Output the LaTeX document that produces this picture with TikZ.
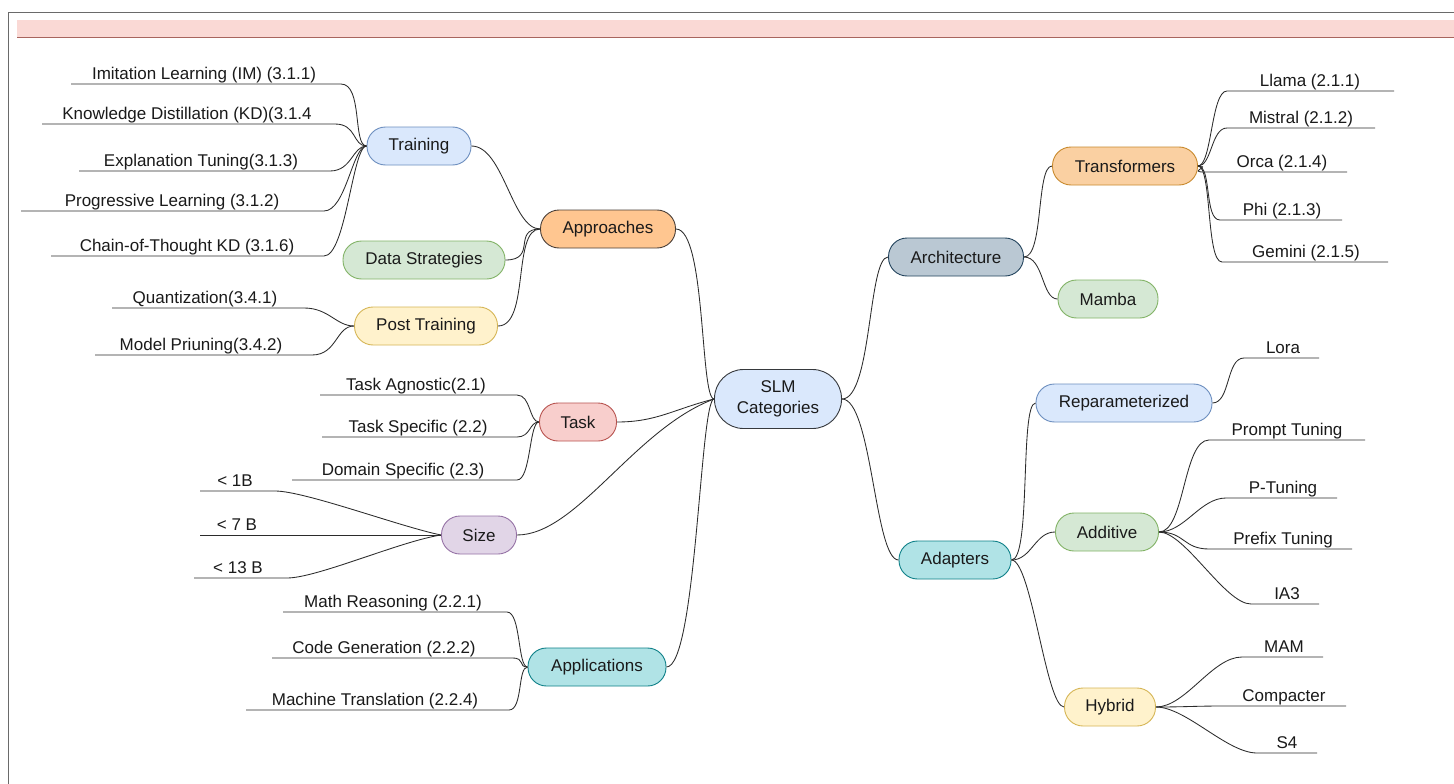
\documentclass[tikz,border=0pt]{standalone}
\usepackage{fontspec}
\setmainfont{Liberation Sans}
\definecolor{txt}{HTML}{1A1A1A}
\definecolor{edgec}{HTML}{2B2B2B}
\definecolor{bluef}{HTML}{DAE8FC}\definecolor{blued}{HTML}{6C8EBF}
\definecolor{greenf}{HTML}{D5E8D4}\definecolor{greend}{HTML}{82B366}
\definecolor{yelf}{HTML}{FFF2CC}\definecolor{yeld}{HTML}{D6B656}
\definecolor{redf}{HTML}{F8CECC}\definecolor{redd}{HTML}{B85450}
\definecolor{purf}{HTML}{E1D5E7}\definecolor{purd}{HTML}{9673A6}
\definecolor{tealf}{HTML}{B0E3E6}\definecolor{teald}{HTML}{0E8088}
\definecolor{orf}{HTML}{FFC690}\definecolor{ord}{HTML}{4A3F38}
\definecolor{or2f}{HTML}{FAD0A2}\definecolor{or2d}{HTML}{C98A2E}
\definecolor{grayf}{HTML}{BAC8D3}\definecolor{grayd}{HTML}{23445D}
\definecolor{slmd}{HTML}{36393D}
\definecolor{bannerf}{HTML}{FAD9D5}\definecolor{bannerd}{HTML}{A8655E}
\definecolor{framec}{HTML}{6A6A6A}
\newcommand\fs{\fontsize{17}{20}\selectfont}
\tikzset{
  mm/.style={rounded corners=18.5, draw, line width=0.9pt, text=txt, inner sep=0pt, minimum height=38, font=\fs},
  leaf/.style={anchor=base, font=\fs, text=txt, inner sep=0pt},
  edge/.style={draw=edgec, line width=0.85pt},
}
% name, x near, x far, y, text centre x, text
\newcommand\mmleaf[6]{%
  \coordinate (#1a) at (#2,#4);
  \coordinate (#1b) at (#3,#4);
  \node[leaf] (#1) at (#5,#4-5) {#6};
}
\begin{document}
\begin{tikzpicture}[x=1pt,y=-1pt]
\useasboundingbox (0,0) rectangle (1454,784);
\fill[white] (0,0) rectangle (1454,784);
% frame and banner
\draw[framec, line width=1.4pt] (8.5,784) -- (8.5,12.5) -- (1454,12.5);
\fill[bannerf] (17,20) rectangle (1454,38);
\draw[bannerd, line width=1pt] (17,38) -- (1454,38);

% ---------- main nodes ----------
\node[mm, fill=bluef, draw=slmd, minimum width=127, minimum height=59, rounded corners=29, align=center] (slm) at (778,399) {SLM\\[1.5pt]Categories};
\node[mm, fill=orf, draw=ord, minimum width=135] (app) at (608,229) {Approaches};
\node[mm, fill=bluef, draw=blued, minimum width=104] (trn) at (419,146) {Training};
\node[mm, fill=greenf, draw=greend, minimum width=162] (ds) at (424,260) {Data Strategies};
\node[mm, fill=yelf, draw=yeld, minimum width=143] (pt) at (426,326) {Post Training};
\node[mm, fill=redf, draw=redd, minimum width=77] (task) at (578,422) {Task};
\node[mm, fill=purf, draw=purd, minimum width=75] (size) at (479,535) {Size};
\node[mm, fill=tealf, draw=teald, minimum width=138] (apps) at (597,667) {Applications};
\node[mm, fill=grayf, draw=grayd, minimum width=135] (arch) at (956,257) {Architecture};
\node[mm, fill=or2f, draw=or2d, minimum width=145] (trf) at (1125,166) {Transformers};
\node[mm, fill=greenf, draw=greend, minimum width=100] (mamba) at (1108,299) {Mamba};
\node[mm, fill=tealf, draw=teald, minimum width=112] (adapt) at (955,560) {Adapters};
\node[mm, fill=bluef, draw=blued, minimum width=176] (repar) at (1124,403) {Reparameterized};
\node[mm, fill=greenf, draw=greend, minimum width=103] (add) at (1107,532) {Additive};
\node[mm, fill=yelf, draw=yeld, minimum width=91] (hyb) at (1110,707) {Hybrid};

% ---------- leaves ----------
\mmleaf{im}{341}{71}{84}{204}{Imitation Learning (IM) (3.1.1)}
\mmleaf{kd}{335}{42}{124}{187}{Knowledge Distillation (KD)(3.1.4}
\mmleaf{et}{330}{79}{171}{201}{Explanation Tuning(3.1.3)}
\mmleaf{pl}{324}{21}{211}{172}{Progressive Learning (3.1.2)}
\mmleaf{cot}{324}{51}{256}{187}{Chain-of-Thought KD (3.1.6)}
\mmleaf{qu}{304}{112}{308}{205}{Quantization(3.4.1)}
\mmleaf{mp}{312}{95}{355}{201}{Model Priuning(3.4.2)}
\mmleaf{ta}{517}{320}{395}{416}{Task Agnostic(2.1)}
\mmleaf{ts}{517}{322}{437}{418}{Task Specific (2.2)}
\mmleaf{dsp}{517}{292}{480}{403}{Domain Specific (2.3)}
\mmleaf{sa}{275}{200}{491}{235}{< 1B}
\mmleaf{sb}{300}{200}{535}{237}{< 7 B}
\mmleaf{sc}{287}{194}{578}{238}{< 13 B}
\mmleaf{mr}{507}{283}{612}{393}{Math Reasoning (2.2.1)}
\mmleaf{cg}{512}{272}{658}{384}{Code Generation (2.2.2)}
\mmleaf{mt}{509}{246}{710}{375}{Machine Translation (2.2.4)}

\mmleaf{ll}{1227}{1394}{91}{1310}{Llama (2.1.1)}
\mmleaf{mi}{1227}{1375}{128}{1301}{Mistral (2.1.2)}
\mmleaf{oc}{1204}{1347}{172}{1282}{Orca (2.1.4)}
\mmleaf{ph}{1220}{1342}{220}{1282}{Phi (2.1.3)}
\mmleaf{ge}{1222}{1388}{262}{1306}{Gemini (2.1.5)}
\mmleaf{lo}{1244}{1319}{358}{1283}{Lora}
\mmleaf{pr}{1209}{1365}{440}{1287}{Prompt Tuning}
\mmleaf{pn}{1226}{1337}{498}{1283}{P-Tuning}
\mmleaf{pf}{1209}{1352}{549}{1283}{Prefix Tuning}
\mmleaf{ia}{1251}{1319}{604}{1287}{IA3}
\mmleaf{ma}{1242}{1323}{657}{1284}{MAM}
\mmleaf{co}{1224}{1346}{706}{1284}{Compacter}
\mmleaf{sf}{1257}{1317}{753}{1287}{S4}

% ---------- connectors: left ----------
\foreach \l in {im,kd,et,pl,cot}
  \draw[edge] (\l b) -- (\l a) .. controls +(22,0) and +(-14,0) .. (trn.west);
\foreach \l in {qu,mp}
  \draw[edge] (\l b) -- (\l a) .. controls +(25,0) and +(-18,0) .. (pt.west);
\foreach \n in {trn,ds,pt}
  \draw[edge] (\n.east) .. controls +(32,0) and +(-28,0) .. (app.west);
\foreach \l in {ta,ts,dsp}
  \draw[edge] (\l b) -- (\l a) .. controls +(14,0) and +(-10,0) .. (task.west);
\draw[edge] (sab) -- (saa) .. controls +(30,0) and +(-40,-8) .. (size.west);
\draw[edge] (sbb) -- (size.west);
\draw[edge] (scb) -- (sca) .. controls +(30,0) and +(-40,6) .. (size.west);
\foreach \l in {mr,cg,mt}
  \draw[edge] (\l b) -- (\l a) .. controls +(14,0) and +(-10,0) .. (apps.west);
\draw[edge] (app.east) .. controls +(30,0) and +(-14,0) .. (slm.west);
\draw[edge] (task.east) .. controls +(40,0) and +(-40,10) .. (slm.west);
\draw[edge] (size.east) .. controls +(60,0) and +(-80,30) .. (slm.west);
\draw[edge] (apps.east) .. controls +(30,0) and +(-14,0) .. (slm.west);

% ---------- connectors: right ----------
\draw[edge] (slm.east) .. controls +(30,0) and +(-20,0) .. (arch.west);
\draw[edge] (slm.east) .. controls +(30,0) and +(-24,0) .. (adapt.west);
\draw[edge] (arch.east) .. controls +(20,0) and +(-16,0) .. (trf.west);
\draw[edge] (arch.east) .. controls +(20,0) and +(-16,0) .. (mamba.west);
\foreach \l in {ll,mi,oc,ph,ge}
  \draw[edge] (trf.east) .. controls +(14,0) and +(-16,0) .. (\l a) -- (\l b);
\draw[edge] (adapt.east) .. controls +(20,0) and +(-16,0) .. (repar.west);
\draw[edge] (adapt.east) .. controls +(20,0) and +(-20,0) .. (add.west);
\draw[edge] (adapt.east) .. controls +(20,0) and +(-18,0) .. (hyb.west);
\draw[edge] (repar.east) .. controls +(18,0) and +(-18,0) .. (loa) -- (lob);
\foreach \l in {pr,pn,pf,ia}
  \draw[edge] (add.east) .. controls +(26,0) and +(-26,0) .. (\l a) -- (\l b);
\foreach \l in {ma,co,sf}
  \draw[edge] (hyb.east) .. controls +(30,0) and +(-30,0) .. (\l a) -- (\l b);
\end{tikzpicture}
\end{document}
